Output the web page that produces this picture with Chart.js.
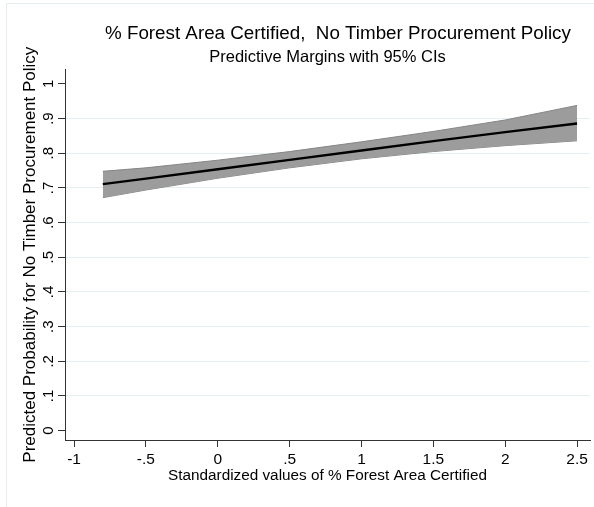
<!DOCTYPE html>
<html>
<head>
<meta charset="utf-8">
<script src="https://cdn.jsdelivr.net/npm/chart.js@4.4.0/dist/chart.umd.min.js"></script>
<style>
  html, body { margin: 0; padding: 0; background: #ffffff; }
  #wrap { width: 594px; height: 507px; position: relative; }
</style>
</head>
<body>
<div id="wrap"><canvas id="marginsChart" width="594" height="507"></canvas></div>
<script>
// valores
const xValores = [-0.8, -0.5, 0, 0.5, 1, 1.5, 2, 2.5];
const margem   = [0.711, 0.727, 0.754, 0.781, 0.808, 0.835, 0.861, 0.886];
const ciSup    = [0.748, 0.758, 0.780, 0.805, 0.833, 0.863, 0.896, 0.938];
const ciInf    = [0.672, 0.694, 0.728, 0.758, 0.784, 0.805, 0.822, 0.836];
const yTicks   = [0, 0.1, 0.2, 0.3, 0.4, 0.5, 0.6, 0.7, 0.8, 0.9, 1];
const xTicks   = [-1, -0.5, 0, 0.5, 1, 1.5, 2, 2.5];

const fonte = "'Liberation Sans', Arial, sans-serif";

// rótulo no estilo Stata: "0", ".1", "-.5"
function rotulo(v) {
    let s = String(Math.round(v * 10) / 10);
    return s.replace(/^0\./, '.').replace(/^-0\./, '-.');
}

const pontos = arr => xValores.map((x, i) => ({ x: x, y: arr[i] }));

// desenha moldura e rótulos verticais do eixo Y
const extras = {
    id: 'extras',
    beforeDraw(chart) {
        const c = chart.ctx;
        c.save();
        c.strokeStyle = '#e4edf0';
        c.lineWidth = 1;
        c.strokeRect(6.5, 3.5, 640, 640);
        c.restore();
    },
    afterDraw(chart) {
        const c = chart.ctx;
        const y = chart.scales.y;
        c.save();
        c.fillStyle = '#000';
        c.font = '15px ' + fonte;
        c.textAlign = 'center';
        c.textBaseline = 'middle';
        yTicks.forEach(v => {
            const py = y.getPixelForValue(v);
            c.save();
            c.translate(48, py);
            c.rotate(-Math.PI / 2);
            c.fillText(rotulo(v), 0, 1);
            c.restore();
        });
        c.restore();
    }
};

const ctx = document.getElementById('marginsChart').getContext('2d');
new Chart(ctx, {
    type: 'line',
    data: {
        datasets: [
            {
                label: 'upper',
                data: pontos(ciSup),
                borderColor: '#858585',
                borderWidth: 1,
                backgroundColor: '#9c9c9c',
                fill: '+1',
                pointRadius: 0,
                tension: 0,
                order: 2
            },
            {
                label: 'lower',
                data: pontos(ciInf),
                borderColor: '#858585',
                borderWidth: 1,
                fill: false,
                pointRadius: 0,
                tension: 0,
                order: 2
            },
            {
                label: 'margin',
                data: pontos(margem),
                borderColor: '#000000',
                borderWidth: 2.4,
                fill: false,
                pointRadius: 0,
                tension: 0,
                order: 0
            }
        ]
    },
    options: {
        responsive: false,
        animation: false,
        layout: { padding: { left: 0, right: 4, top: 0, bottom: 0 } },
        plugins: {
            legend: { display: false },
            tooltip: { enabled: false },
            title: {
                display: true,
                fullSize: false,
                text: '\u00a0\u00a0\u00a0\u00a0% Forest Area Certified,  No Timber Procurement Policy',
                color: '#000',
                font: { family: fonte, size: 18.8, weight: 'normal' },
                padding: { top: 23, bottom: 0 }
            },
            subtitle: {
                display: true,
                fullSize: false,
                text: 'Predictive Margins with 95% CIs',
                color: '#000',
                font: { family: fonte, size: 16.5, weight: 'normal' },
                padding: { top: 2, bottom: 2 }
            }
        },
        scales: {
            x: {
                type: 'linear',
                min: -1.063,
                max: 2.59,
                afterBuildTicks: s => { s.ticks = xTicks.map(v => ({ value: v })); },
                afterFit: s => { s.height = 67; },
                grid: {
                    display: true,
                    drawOnChartArea: false,
                    drawTicks: true,
                    tickLength: 7,
                    tickColor: '#333'
                },
                border: { color: '#333', width: 1 },
                ticks: {
                    color: '#000',
                    font: { family: fonte, size: 15.5 },
                    padding: 3,
                    maxRotation: 0,
                    callback: v => rotulo(v)
                },
                title: {
                    display: true,
                    text: 'Standardized values of % Forest Area Certified',
                    color: '#000',
                    font: { family: fonte, size: 15.3 },
                    padding: { top: 0, bottom: 22 }
                }
            },
            y: {
                min: -0.027,
                max: 1.042,
                afterBuildTicks: s => { s.ticks = yTicks.map(v => ({ value: v })); },
                afterFit: s => { s.width = 65; },
                grid: {
                    color: ctx2 => (ctx2.tick && (ctx2.tick.value === 0 || ctx2.tick.value === 1)) ? 'rgba(0,0,0,0)' : '#e6eef1',
                    tickColor: '#333',
                    tickLength: 7,
                    lineWidth: 1
                },
                border: { color: '#333', width: 1 },
                ticks: {
                    display: false
                },
                title: {
                    display: true,
                    text: 'Predicted Probability for No Timber Procurement Policy',
                    color: '#000',
                    font: { family: fonte, size: 17 },
                    padding: { top: 20, bottom: 0 }
                }
            }
        }
    },
    plugins: [extras]
});
</script>
</body>
</html>
